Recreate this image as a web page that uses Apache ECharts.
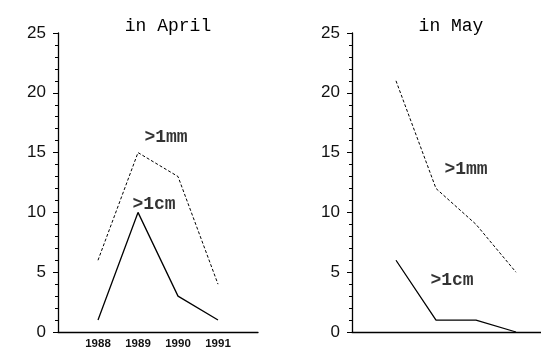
<!DOCTYPE html>
<html>
<head>
<meta charset="utf-8">
<script src="https://cdn.jsdelivr.net/npm/echarts@6/dist/echarts.min.js"></script>
<style>
  html, body { margin: 0; padding: 0; background: #fff; }
  #chart { width: 541px; height: 350px; }
</style>
</head>
<body>
<div id="chart"></div>
<script>
// years on the x axis
const years = [1988, 1989, 1990, 1991];
const yTicks = [0, 5, 10, 15, 20, 25];

// April
const aprilMm = [6, 15, 13, 4];
const aprilCm = [1, 10, 3, 1];
// May
const mayMm = [21, 12, 9, 5];
const mayCm = [6, 1, 1, 0];

// where the series names sit, [year, value]
const aprilMmLabel = [1989.7, 16.3];
const aprilCmLabel = [1989.4, 10.7];
const mayMmLabel = [1989.75, 13.6];
const mayCmLabel = [1989.4, 4.3];

const pairs = (vals) => vals.map((v, i) => [years[i], v]);

const chart = echarts.init(document.getElementById('chart'));

const mono = "'Courier New', 'Liberation Mono', 'DejaVu Sans Mono', monospace";

const yAxisBase = {
  type: 'value',
  min: 0,
  max: 25,
  interval: 5,
  axisLine: { show: true, lineStyle: { color: '#000', width: 1.3 } },
  axisTick: { show: true, inside: false, length: 5, lineStyle: { color: '#000' } },
  minorTick: { show: true, splitNumber: 5, length: 3, lineStyle: { color: '#000' } },
  axisLabel: {
    color: '#111', fontFamily: 'Liberation Sans, Arial, sans-serif',
    fontSize: 17, margin: 12,
    formatter: (v) => yTicks.includes(v) ? String(v) : ''
  },
  splitLine: { show: false }
};

const xAxisBase = {
  type: 'value',
  interval: 1,
  axisLine: { show: true, onZero: false, lineStyle: { color: '#000', width: 1.3 } },
  axisTick: { show: false },
  axisLabel: {
    color: '#111', fontFamily: 'Liberation Sans, Arial, sans-serif',
    fontSize: 11.5, fontWeight: 'bold', margin: 6,
    showMinLabel: false, showMaxLabel: false,
    formatter: (v) => years.includes(Math.round(v)) && Math.abs(v - Math.round(v)) < 1e-6 ? String(Math.round(v)) : ''
  },
  splitLine: { show: false }
};

function lineSeries(idx, vals, dashed) {
  return {
    type: 'line',
    xAxisIndex: idx,
    yAxisIndex: idx,
    data: pairs(vals),
    symbol: 'none',
    lineStyle: dashed
      ? { color: '#000', width: 1, type: [3, 2] }
      : { color: '#000', width: 1.3 }
  };
}

function nameMark(idx, text, pos) {
  return {
    type: 'scatter',
    xAxisIndex: idx,
    yAxisIndex: idx,
    data: [pos],
    symbolSize: 0,
    silent: true,
    label: {
      show: true,
      position: 'inside',
      formatter: text,
      color: '#000',
      fontFamily: mono,
      fontSize: 18,
      fontWeight: 'bold'
    }
  };
}

chart.setOption({
  animation: false,
  backgroundColor: '#fff',
  title: [
    { text: 'in April', left: 163, top: 12, textAlign: 'center',
      textStyle: { fontFamily: mono, fontSize: 18, fontWeight: 'normal', color: '#000' } },
    { text: 'in May', left: 446, top: 12, textAlign: 'center',
      textStyle: { fontFamily: mono, fontSize: 18, fontWeight: 'normal', color: '#000' } }
  ],
  grid: [
    { left: 58, top: 33, width: 200, height: 299 },
    { left: 352, top: 33, width: 189, height: 299 }
  ],
  xAxis: [
    Object.assign({}, xAxisBase, { gridIndex: 0, min: 1987, max: 1992 }),
    Object.assign({}, xAxisBase, { gridIndex: 1, min: 1986.9, max: 1991.625 })
  ],
  yAxis: [
    Object.assign({}, yAxisBase, { gridIndex: 0 }),
    Object.assign({}, yAxisBase, { gridIndex: 1 })
  ],
  series: [
    lineSeries(0, aprilMm, true),
    lineSeries(0, aprilCm, false),
    lineSeries(1, mayMm, true),
    lineSeries(1, mayCm, false),
    nameMark(0, '>1mm', aprilMmLabel),
    nameMark(0, '>1cm', aprilCmLabel),
    nameMark(1, '>1mm', mayMmLabel),
    nameMark(1, '>1cm', mayCmLabel)
  ]
});
</script>
</body>
</html>
